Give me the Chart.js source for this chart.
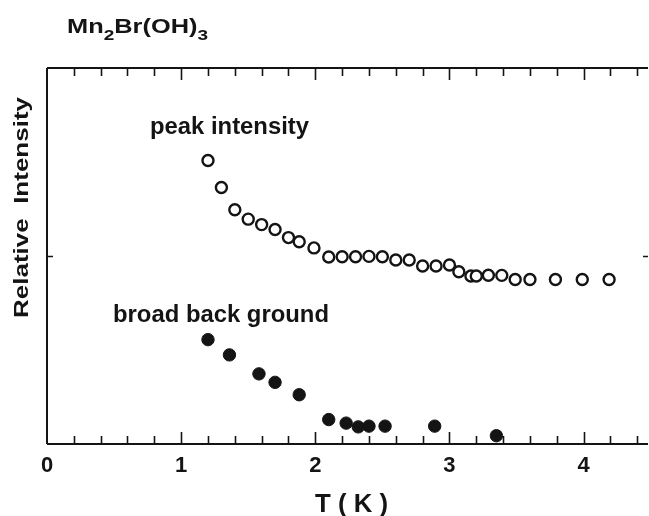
<!DOCTYPE html>
<html>
<head>
<meta charset="utf-8">
<script src="https://cdn.jsdelivr.net/npm/chart.js@4.4.1/dist/chart.umd.min.js"></script>
<style>
  html, body { margin: 0; padding: 0; background: #fff; }
  #wrap { width: 649px; height: 516px; }
</style>
</head>
<body>
<div id="wrap"><canvas id="c" width="649" height="516"></canvas></div>
<script>
// datos
const xTicks = [0, 1, 2, 3, 4];
const peakT = [1.2, 1.3, 1.4, 1.5, 1.6, 1.7, 1.8, 1.88, 1.99, 2.1, 2.2, 2.3, 2.4, 2.5, 2.6, 2.7, 2.8, 2.9, 3.0, 3.07, 3.16, 3.2, 3.29, 3.39, 3.49, 3.6, 3.79, 3.99, 4.19];
const peakI = [1.508, 1.364, 1.246, 1.196, 1.167, 1.141, 1.098, 1.076, 1.043, 0.995, 0.996, 0.996, 0.998, 0.996, 0.979, 0.979, 0.947, 0.947, 0.952, 0.916, 0.894, 0.894, 0.898, 0.897, 0.875, 0.875, 0.875, 0.875, 0.875];
const bgT = [1.2, 1.36, 1.58, 1.7, 1.88, 2.1, 2.23, 2.32, 2.4, 2.52, 2.89, 3.35];
const bgI = [0.555, 0.474, 0.373, 0.328, 0.262, 0.130, 0.111, 0.091, 0.095, 0.095, 0.095, 0.044];
// título con subíndices: [texto, es subíndice]
const titleParts = [["Mn", false], ["2", true], ["Br(OH)", false], ["3", true]];

const INK = "#141414";
const FONT = '"Liberation Sans", Arial, Helvetica, sans-serif';

const toPts = (xs, ys) => xs.map((x, i) => ({x, y: ys[i]}));

// texto estirado en horizontal hasta un ancho dado (la fuente original es más ancha)
function fitText(ctx, str, x, y, width){
  const w = ctx.measureText(str).width;
  ctx.save();
  ctx.translate(x, y);
  ctx.scale(width / w, 1);
  ctx.fillText(str, 0, 0);
  ctx.restore();
}

function drawTitle(ctx, x, y, width){
  const big = "bold 20px " + FONT, small = "bold 15px " + FONT;
  let total = 0;
  for (const [s, sub] of titleParts){ ctx.font = sub ? small : big; total += ctx.measureText(s).width; }
  const k = width / total;
  ctx.save();
  ctx.translate(x, y);
  ctx.scale(k, 1);
  let cx = 0;
  for (const [s, sub] of titleParts){
    ctx.font = sub ? small : big;
    ctx.fillText(s, cx, sub ? 7 : 0);
    cx += ctx.measureText(s).width;
  }
  ctx.restore();
}

const framePlugin = {
  id: "frame",
  afterDraw(chart){
    const {ctx, chartArea: a, scales} = chart;
    const sx = scales.x, sy = scales.y;
    ctx.save();
    ctx.strokeStyle = INK;
    ctx.lineWidth = 2;
    ctx.beginPath();
    ctx.moveTo(a.left, a.top); ctx.lineTo(a.right, a.top);
    ctx.moveTo(a.left, a.top); ctx.lineTo(a.left, a.bottom);
    ctx.moveTo(a.left, a.bottom); ctx.lineTo(a.right, a.bottom);
    ctx.stroke();

    // marcas hacia dentro cada 0.2
    ctx.lineWidth = 1.6;
    ctx.beginPath();
    for (let k = 1; k * 0.2 <= sx.max + 1e-9; k++){
      const v = k * 0.2;
      const px = Math.round(sx.getPixelForValue(v)) + 0.5;
      const major = xTicks.some(t => Math.abs(t - v) < 1e-6);
      const len = major ? 12 : 8;
      ctx.moveTo(px, a.bottom); ctx.lineTo(px, a.bottom - len);
      ctx.moveTo(px, a.top); ctx.lineTo(px, a.top + len);
    }
    const py = Math.round(sy.getPixelForValue(1)) + 0.5;
    ctx.moveTo(a.left, py); ctx.lineTo(a.left + 6, py);
    ctx.moveTo(a.right, py); ctx.lineTo(a.right - 5, py);
    ctx.stroke();

    // textos
    ctx.fillStyle = INK;
    ctx.textBaseline = "alphabetic";
    ctx.textAlign = "left";

    drawTitle(ctx, 67, 33, 141);

    ctx.font = "bold 23px " + FONT;
    fitText(ctx, "peak intensity", 150, 134, 159);
    fitText(ctx, "broad back ground", 113, 322, 216);

    ctx.font = "bold 25px " + FONT;
    fitText(ctx, "T ( K )", 315, 512, 73);

    ctx.save();
    ctx.translate(28, 318);
    ctx.rotate(-Math.PI / 2);
    ctx.font = "bold 21px " + FONT;
    fitText(ctx, "Relative  Intensity", 0, 0, 221);
    ctx.restore();

    ctx.restore();
  }
};

new Chart(document.getElementById("c"), {
  type: "scatter",
  data: {
    datasets: [
      {
        label: "peak intensity",
        data: toPts(peakT, peakI),
        pointStyle: "circle",
        pointRadius: 5.5,
        pointBorderWidth: 2.4,
        pointBorderColor: INK,
        pointBackgroundColor: "#fff"
      },
      {
        label: "broad back ground",
        data: toPts(bgT, bgI),
        pointStyle: "circle",
        pointRadius: 6.2,
        pointBorderWidth: 1,
        pointBorderColor: INK,
        pointBackgroundColor: INK
      }
    ]
  },
  options: {
    responsive: false,
    animation: false,
    layout: { autoPadding: false, padding: { left: 0, right: 1, top: 0, bottom: 0 } },
    plugins: { legend: { display: false }, tooltip: { enabled: false } },
    scales: {
      x: {
        type: "linear",
        min: 0, max: 4.48,
        afterBuildTicks: (s) => { s.ticks = xTicks.map(v => ({value: v})); },
        afterFit: (s) => { s.height = 72; },
        grid: { display: false, drawTicks: false },
        border: { display: false },
        ticks: {
          color: INK,
          padding: 9,
          maxRotation: 0,
          font: { family: FONT, size: 22, weight: "bold" },
          callback: (v) => String(v)
        }
      },
      xTop: {
        type: "linear",
        position: "top",
        min: 0, max: 4.48,
        afterFit: (s) => { s.height = 68; },
        grid: { display: false, drawTicks: false },
        border: { display: false },
        ticks: { display: false }
      },
      y: {
        min: 0, max: 2,
        afterFit: (s) => { s.width = 47; },
        grid: { display: false, drawTicks: false },
        border: { display: false },
        ticks: { display: false }
      }
    }
  },
  plugins: [framePlugin]
});
</script>
</body>
</html>
